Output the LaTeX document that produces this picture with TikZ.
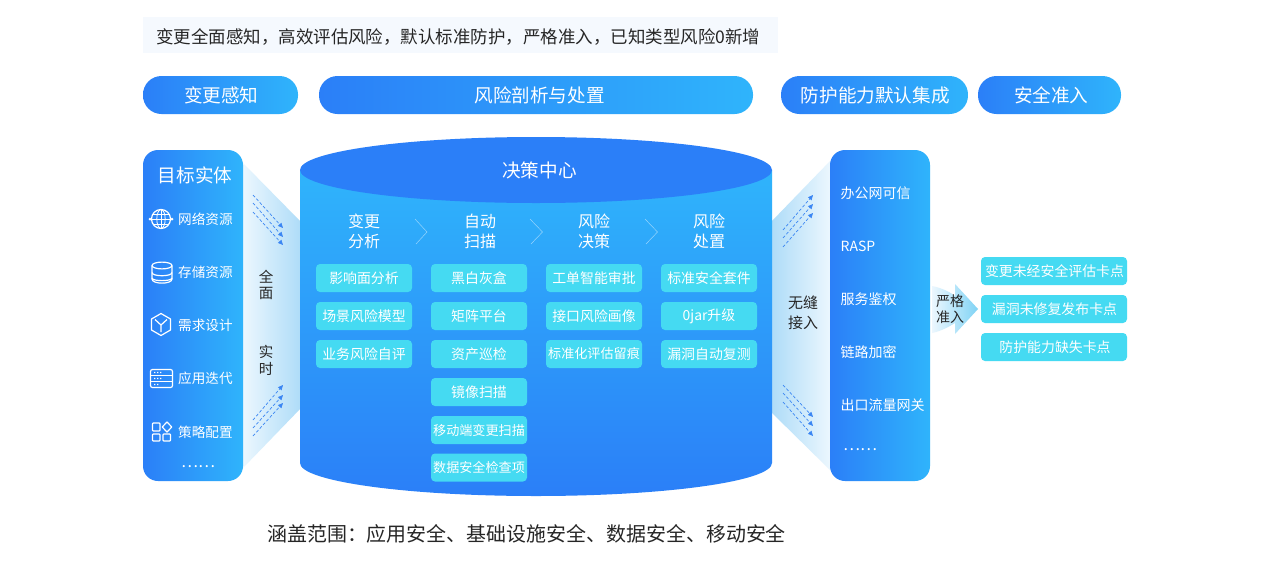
\documentclass[tikz,border=0pt]{standalone}
\usepackage{fontspec}
\setmainfont{Noto Sans CJK SC}
\usetikzlibrary{arrows.meta,shapes.geometric}
\definecolor{bluea}{HTML}{2B7FF8}
\definecolor{blueb}{HTML}{2FB4FB}
\definecolor{cyanbox}{HTML}{45DAF2}
\definecolor{darktxt}{HTML}{262626}
\definecolor{arrowblue}{HTML}{3B86F3}
\definecolor{bandc}{HTML}{F5F9FE}
\definecolor{funnellight}{HTML}{ECF7FE}
\definecolor{funneldark}{HTML}{AEDCF8}
\definecolor{arrowdark}{HTML}{7FD3F5}
\newcommand{\fsz}[2]{\fontsize{#1}{#2}\selectfont}
\tikzset{
  pill/.style={rectangle,rounded corners=18.5pt,left color=bluea,right color=blueb,text=white,
    minimum height=38pt,inner sep=0pt,font=\fsz{18.6}{22}},
  panel/.style={rectangle,rounded corners=15pt,left color=bluea,right color=blueb,
    minimum width=100pt,minimum height=331pt,inner sep=0pt},
  card/.style={rectangle,rounded corners=4pt,fill=cyanbox,text=white,minimum width=96pt,minimum height=28pt,
    inner sep=0pt,font=\fsz{13.9}{16}},
  cardnarrow/.style={card,font=\fsz{13.1}{16}},
  sidecard/.style={card,minimum width=146pt},
  headtxt/.style={text=white,align=center,inner sep=0pt,font=\fsz{16}{20}},
  itemtxt/.style={text=white,inner sep=0pt,anchor=west,font=\fsz{13.6}{16}},
  rightitem/.style={text=white,inner sep=0pt,anchor=west,font=\fsz{14}{16}},
  sidetxt/.style={text=darktxt,align=center,inner sep=0pt},
  icon/.style={draw=white,line width=1.2pt,line join=round},
  chev/.style={draw=white,draw opacity=.5,line width=.5pt},
  flowarrow/.style={draw=arrowblue,line width=.7pt,dash pattern=on 3pt off 2pt,-{Triangle[length=5pt,width=4.5pt]}},
}
\newcommand{\flow}[5]{\coordinate (#1s) at (#2,#3);\coordinate (#1e) at (#4,#5);\draw[flowarrow] (#1s) -- (#1e);}
\begin{document}
\begin{tikzpicture}[x=1pt,y=-1pt]
\useasboundingbox (0,0) rectangle (1274,568);
\fill[white] (0,0) rectangle (1274,568);
% top band
\node[rectangle,fill=bandc,minimum width=635pt,minimum height=36pt,inner sep=0pt] (band) at (460.5,35) {};
\node[text=darktxt,inner sep=0pt,anchor=west,font=\fsz{17.48}{20}] (headline) at (156,36.5) {变更全面感知，高效评估风险，默认标准防护，严格准入，已知类型风险0新增};
% pills
\node[pill,minimum width=155pt] (p1) at (220.5,95) {\hspace*{1.5pt}变更感知};
\node[pill,minimum width=434pt] (p2) at (536,95) {\hspace*{7pt}风险剖析与处置};
\node[pill,minimum width=187pt] (p3) at (874.5,95) {\hspace*{1.5pt}防护能力默认集成};
\node[pill,minimum width=143pt] (p4) at (1049.5,95) {\hspace*{3.5pt}安全准入};
% funnels
\shade[left color=funnellight,right color=funneldark] (243,163) -- (301,222) -- (301,408) -- (243,468) -- cycle;
\shade[left color=funneldark,right color=funnellight] (771,222) -- (831,160) -- (831,471) -- (771,412) -- cycle;
% cylinder
\shade[top color=blueb,bottom color=bluea]
  (300,170) -- (300,463) .. controls (300,481.2) and (405.7,496) .. (536,496)
  .. controls (666.3,496) and (772,481.2) .. (772,463) -- (772,170) -- cycle;
\node[ellipse,fill=bluea,minimum width=472pt,minimum height=66pt,inner sep=0pt] (cap) at (536,170) {};
\node[text=white,inner sep=0pt,font=\fsz{18.6}{22}] (captitle) at (539.5,170) {决策中心};
% left panel
\node[panel] (lp) at (193,315.5) {};
\node[text=white,inner sep=0pt,font=\fsz{18.6}{22}] (lptitle) at (195,175) {目标实体};
\node[itemtxt] (l1) at (178,219.5) {网络资源};
\node[itemtxt] (l2) at (178,272.5) {存储资源};
\node[itemtxt] (l3) at (178,325.5) {需求设计};
\node[itemtxt] (l4) at (178,378.5) {应用迭代};
\node[itemtxt] (l5) at (178,432) {策略配置};
\node[text=white,inner sep=0pt,font=\fsz{16}{18}] (l6) at (198,467) {……};
% icons: globe
\draw[icon] (161,219) circle (9.5);
\draw[icon,line width=.8pt] (161,219) ellipse (4.2 and 9.5);
\draw[icon,line width=.8pt] (151.5,219) -- (170.5,219) (153,214) -- (169,214) (153,224) -- (169,224) (161,209.5) -- (161,228.5);
\fill[white] (150,219) circle (1.5) (172,219) circle (1.5);
% database
\draw[icon] (152,266) -- (152,279) .. controls (152,284.5) and (172,284.5) .. (172,279) -- (172,266);
\draw[icon] (162,265.5) ellipse (10 and 3.4);
\draw[icon] (152,272.5) .. controls (152,276.8) and (172,276.8) .. (172,272.5);
\draw[icon] (152,278) .. controls (152,281.5) and (172,281.5) .. (172,278);
% hexagon
\draw[icon] (161,313.5) -- (170.5,319) -- (170.5,330) -- (161,335.5) -- (151.5,330) -- (151.5,319) -- cycle;
\draw[icon] (155,319.5) -- (161,325) -- (167,319.5) (161,325) -- (161,332);
% server
\draw[icon,rounded corners=2pt] (150.5,369.5) rectangle (172.5,387.5);
\draw[icon,line width=.8pt] (150.5,375.5) -- (172.5,375.5) (150.5,381.5) -- (172.5,381.5);
\fill[white] (154,371.8) rectangle (155.4,373.2) (157,371.8) rectangle (158.4,373.2) (160,371.8) rectangle (161.4,373.2)
  (154,377.8) rectangle (155.4,379.2) (157,377.8) rectangle (158.4,379.2) (160,377.8) rectangle (161.4,379.2)
  (154,383.8) rectangle (155.4,385.2) (157,383.8) rectangle (158.4,385.2);
% grid icon
\draw[icon,rounded corners=.8pt] (152.5,423) rectangle (160,431);
\draw[icon,rounded corners=.8pt] (152.5,434) rectangle (160,441);
\draw[icon,rounded corners=.8pt] (163,434) rectangle (170.5,441);
\draw[icon] (167,422) -- (171.8,427) -- (167,432) -- (162.2,427) -- cycle;
% left flows
\flow{a1}{253}{195}{283}{228}
\flow{a2}{253}{203}{283}{237}
\flow{a3}{253}{212}{283}{245}
\flow{b1}{253}{420}{283}{385}
\flow{b2}{253}{428}{283}{395}
\flow{b3}{253}{436}{283}{403}
\node[sidetxt,font=\fsz{14.5}{16.5}] (quanmian) at (266,285) {全\\面};
\node[sidetxt,font=\fsz{14.5}{16.5}] (shishi) at (266,360.5) {实\\时};
% column heads
\node[headtxt] (h1) at (364,231.5) {变更\\分析};
\node[headtxt] (h2) at (480,231.5) {自动\\扫描};
\node[headtxt] (h3) at (594,231.5) {风险\\决策};
\node[headtxt] (h4) at (709,231.5) {风险\\处置};
\draw[chev] (415,219) -- (427,232) -- (416,244);
\draw[chev] (530,219) -- (542.5,232) -- (531,244);
\draw[chev] (645,219) -- (657.5,232) -- (646,244);
% columns
\node[card] (c11) at (364,278) {影响面分析};
\node[card] (c12) at (364,316) {场景风险模型};
\node[card] (c13) at (364,354) {业务风险自评};
\node[card] (c21) at (479,278) {黑白灰盒};
\node[card] (c22) at (479,316) {矩阵平台};
\node[card] (c23) at (479,354) {资产巡检};
\node[card] (c24) at (479,392) {镜像扫描};
\node[cardnarrow] (c25) at (479,430) {移动端变更扫描};
\node[cardnarrow] (c26) at (479,467.5) {数据安全检查项};
\node[card] (c31) at (594,278) {工单智能审批};
\node[card] (c32) at (594,316) {接口风险画像};
\node[cardnarrow] (c33) at (594,354) {标准化评估留痕};
\node[card] (c41) at (709,278) {标准安全套件};
\node[card] (c42) at (709,316) {0jar升级};
\node[card] (c43) at (709,354) {漏洞自动复测};
% right panel
\node[panel] (rp) at (880,315.5) {};
\node[rightitem] (r1) at (840.5,193.5) {办公网可信};
\node[rightitem] (r2) at (840.5,246.5) {RASP};
\node[rightitem] (r3) at (840.5,299.5) {服务鉴权};
\node[rightitem] (r4) at (840.5,352.5) {链路加密};
\node[rightitem] (r5) at (840.5,405.5) {出口流量网关};
\node[text=white,inner sep=0pt,font=\fsz{16}{18}] (r6) at (860,450) {……};
% right flows
\flow{c1}{783}{230}{813}{195}
\flow{c2}{783}{238}{813}{204}
\flow{c3}{783}{247}{813}{213}
\flow{d1}{783}{385}{813}{417}
\flow{d2}{783}{393}{813}{426}
\flow{d3}{783}{402}{813}{436}
\node[sidetxt,font=\fsz{15}{20}] (wufeng) at (803,313) {无缝\\接入};
% arrow
\shade[left color=funnellight,right color=arrowdark]
  (932,286) .. controls (942,288) and (950,292) .. (955,296) -- (955,284) -- (978,309) -- (955,334) -- (955,323)
  .. controls (950,326) and (942,331) .. (932,333) -- cycle;
\node[sidetxt,font=\fsz{14}{16}] (yange) at (950,309) {严格\\准入};
% side cards
\node[sidecard] (s1) at (1054,271) {\hspace*{1pt}变更未经安全评估卡点};
\node[sidecard] (s2) at (1054,309) {\hspace*{1pt}漏洞未修复发布卡点};
\node[sidecard] (s3) at (1054,347) {\hspace*{2pt}防护能力缺失卡点};
% bottom
\node[text=darktxt,inner sep=0pt,anchor=west,font=\fsz{19.95}{22}] (foot) at (267,533.5) {涵盖范围：应用安全、基础设施安全、数据安全、移动安全};
\end{tikzpicture}
\end{document}
